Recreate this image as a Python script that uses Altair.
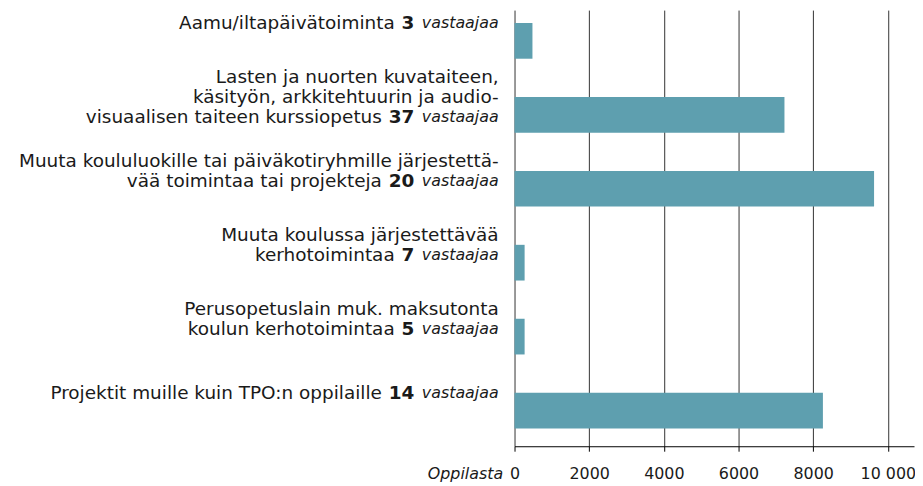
import altair as alt
import pandas as pd

# ---------------- data ----------------
categories = [
    "Aamu/iltapäivätoiminta",
    "Lasten ja nuorten kurssiopetus",
    "Muuta koululuokille tai päiväkotiryhmille",
    "Muuta koulussa järjestettävää kerhotoimintaa",
    "Perusopetuslain muk. maksutonta kerhotoimintaa",
    "Projektit muille kuin TPO:n oppilaille",
]
label_lines = [
    ["Aamu/iltapäivätoiminta"],
    ["Lasten ja nuorten kuvataiteen,",
     "käsityön, arkkitehtuurin ja audio-",
     "visuaalisen taiteen kurssiopetus"],
    ["Muuta koululuokille tai päiväkotiryhmille järjestettä-",
     "vää toimintaa tai projekteja"],
    ["Muuta koulussa järjestettävää",
     "kerhotoimintaa"],
    ["Perusopetuslain muk. maksutonta",
     "koulun kerhotoimintaa"],
    ["Projektit muille kuin TPO:n oppilaille"],
]
students = [480, 7230, 9630, 270, 270, 8260]
respondents = [3, 37, 20, 7, 5, 14]
respondent_word = "vastaajaa"
x_ticks = [0, 2000, 4000, 6000, 8000, 10000]
x_title = "Oppilasta"

# ---------------- style ----------------
BAR_COLOR = "#5E9FAF"
TEXT_COLOR = "#1a1a1a"
FONT = "DejaVu Sans"
FS = 18.6            # main label font size
IT_FS = 16           # italic "vastaajaa"
LINE_H = 20          # line height of the category labels
RIGHT = -16          # right edge of labels (px from the axis)
NUM_RIGHT = -101     # right edge of the bold respondent count
DIGIT_W = 12.9       # width of a bold digit
GAP = 7

bars_df = pd.DataFrame({"cat": categories, "students": students})

rows = []
for cat, lines, n in zip(categories, label_lines, respondents):
    k = len(lines)
    for i, t in enumerate(lines):
        rows.append({"cat": cat, "text": t,
                     "kind": "lastplain" if i == k - 1 else "plain",
                     "line": i, "nlines": k, "digits": len(str(n))})
    rows.append({"cat": cat, "text": str(n), "kind": "num",
                 "line": k - 1, "nlines": k, "digits": len(str(n))})
    rows.append({"cat": cat, "text": respondent_word, "kind": "resp",
                 "line": k - 1, "nlines": k, "digits": len(str(n))})
labels_df = pd.DataFrame(rows)

y_scale = alt.Scale(paddingInner=0.517, paddingOuter=0.208, align=0.42)

bars = alt.Chart(bars_df).mark_bar(color=BAR_COLOR).encode(
    x=alt.X("students:Q",
            scale=alt.Scale(domain=[0, 10700], nice=False, zero=True),
            axis=alt.Axis(
                values=x_ticks, grid=True, gridColor="#333333", gridWidth=1,
                gridOpacity=1, domainColor="#000000", domainWidth=1,
                tickColor="#000000", tickSize=5, tickWidth=1,
                labelFont=FONT, labelFontSize=16, labelColor=TEXT_COLOR,
                labelPadding=15, labelFlush=False, labelBaseline="top",
                labelExpr="datum.value >= 10000 ? replace(format(datum.value, ','), ',', ' ') : format(datum.value, 'd')",
                title=x_title, titleFont=FONT, titleFontSize=16,
                titleFontStyle="italic", titleFontWeight="normal",
                titleColor=TEXT_COLOR, titleAlign="right", titleAnchor="start",
                titleBaseline="top", titleX=-12, titleY=20)),
    y=alt.Y("cat:N", sort=categories, scale=y_scale, axis=None),
)

base_text = alt.Chart(labels_df).transform_calculate(
    py=f"(datum.line - (datum.nlines - 1) / 2) * {LINE_H}",
    px=(f"datum.kind == 'resp' ? {RIGHT} : datum.kind == 'num' ? {NUM_RIGHT} : "
        f"datum.kind == 'lastplain' ? {NUM_RIGHT} - datum.digits * {DIGIT_W} - {GAP} : {RIGHT}"),
).encode(
    x=alt.X("px:Q", scale=None, axis=None),
    y=alt.Y("cat:N", sort=categories, scale=y_scale, axis=None),
    yOffset=alt.YOffset("py:Q", scale=None),
    text="text:N",
)

plain = base_text.transform_filter(
    "datum.kind == 'plain' || datum.kind == 'lastplain'"
).mark_text(align="right", baseline="middle", font=FONT, fontSize=FS,
            color=TEXT_COLOR)
num = base_text.transform_filter("datum.kind == 'num'").mark_text(
    align="right", baseline="middle", font=FONT, fontSize=FS,
    fontWeight="bold", color=TEXT_COLOR)
resp = base_text.transform_filter("datum.kind == 'resp'").mark_text(
    align="right", baseline="middle", font=FONT, fontSize=IT_FS,
    fontStyle="italic", color=TEXT_COLOR)

chart = alt.layer(bars, plain, num, resp).resolve_scale(
    x="independent"
).properties(
    width=403, height=440,
    autosize=alt.AutoSizeParams(type="none"),
    padding={"left": 511, "top": 0, "right": 1, "bottom": 38},
).configure_view(stroke=None)

chart.save("out.html", embed_options={"renderer": "svg", "actions": False})
